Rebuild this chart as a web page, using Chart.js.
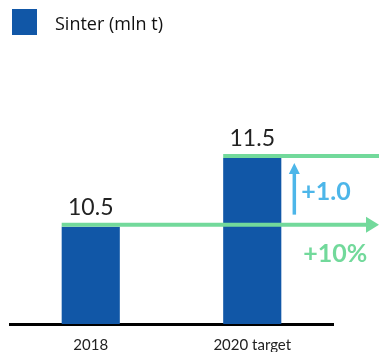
<!DOCTYPE html>
<html>
<head>
<meta charset="utf-8">
<script src="https://cdn.jsdelivr.net/npm/chart.js@4.4.0/dist/chart.umd.min.js"></script>
<style>
  html, body { margin: 0; padding: 0; background: #fff; }
  #wrap { position: relative; width: 379px; height: 352px; }
  #legend { position: absolute; left: 12px; top: 9px; display: flex; align-items: center;
    font-family: "Open Sans", sans-serif; font-size: 18px; color: #111; }
  #legend .box { width: 25px; height: 26px; background: #1157a7; margin-right: 18px; }
  #legend .txt { position: relative; top: 1px; }
</style>
</head>
<body>
<div id="wrap">
  <canvas id="chart" width="379" height="352"></canvas>
  <div id="legend"><span class="box"></span><span class="txt">Sinter (mln t)</span></div>
</div>
<script>
const categories = ["2018", "2020 target"];
const sinter = [10.5, 11.5];
const deltaLabel = "+1.0";
const growthLabel = "+10%";

const barBlue = "#1157a7";
const green = "#72d99b";
const lightBlue = "#4db6e9";

function arrowHead(ctx, x, y, dir, len, half) {
  ctx.beginPath();
  if (dir === "right") {
    ctx.moveTo(x, y);
    ctx.lineTo(x - len, y - half);
    ctx.lineTo(x - len, y + half);
  } else {
    ctx.moveTo(x, y);
    ctx.lineTo(x - half, y + len);
    ctx.lineTo(x + half, y + len);
  }
  ctx.closePath();
  ctx.fill();
}

const notes = {
  id: "notes",
  afterDraw(chart) {
    const ctx = chart.ctx;
    const bars = chart.getDatasetMeta(0).data;
    const y = chart.scales.y;
    const b0 = bars[0], b1 = bars[1];
    const y0 = y.getPixelForValue(sinter[0]);
    const y1 = y.getPixelForValue(sinter[1]);
    ctx.save();

    // value labels
    ctx.fillStyle = "#222";
    ctx.font = "23px Lato";
    ctx.textAlign = "center";
    ctx.textBaseline = "middle";
    bars.forEach((b, i) => ctx.fillText(sinter[i].toFixed(1), b.x, b.y - 19));

    // green level lines
    ctx.strokeStyle = green;
    ctx.fillStyle = green;
    ctx.lineWidth = 4;
    ctx.beginPath();
    ctx.moveTo(b0.x - b0.width / 2, y0 - 2);
    ctx.lineTo(chart.width - 10, y0 - 2);
    ctx.stroke();
    arrowHead(ctx, chart.width, y0 - 2, "right", 13, 8);

    ctx.beginPath();
    ctx.moveTo(b1.x - b1.width / 2, y1 - 2);
    ctx.lineTo(chart.width, y1 - 2);
    ctx.stroke();

    // blue arrow
    const ax = b1.x + b1.width / 2 + 13;
    ctx.strokeStyle = lightBlue;
    ctx.fillStyle = lightBlue;
    ctx.lineWidth = 3.5;
    ctx.beginPath();
    ctx.moveTo(ax, y0 - 12);
    ctx.lineTo(ax, y1 + 12);
    ctx.stroke();
    arrowHead(ctx, ax, y1 + 5, "up", 11, 5.5);

    ctx.textAlign = "left";
    ctx.font = "bold 25px Lato";
    ctx.fillText(deltaLabel, ax + 7, (y0 + y1) / 2);

    ctx.fillStyle = green;
    ctx.fillText(growthLabel, ax + 9, y0 + 27);
    ctx.restore();
  }
};

new Chart(document.getElementById("chart"), {
  type: "bar",
  data: {
    labels: categories,
    datasets: [{
      label: "Sinter (mln t)",
      data: sinter,
      backgroundColor: barBlue,
      barPercentage: 0.36,
      categoryPercentage: 1,
    }],
  },
  options: {
    responsive: false,
    animation: false,
    layout: { padding: { left: 10, right: 46, top: 60, bottom: 0 } },
    plugins: { legend: { display: false }, tooltip: { enabled: false } },
    scales: {
      x: {
        grid: { display: false, drawTicks: false },
        border: { display: true, color: "#000", width: 3 },
        ticks: { color: "#222", font: { family: "Lato", size: 15 }, padding: 12 },
        afterFit(scale) { scale.height = 28; },
      },
      y: { display: false, min: 9.08, max: 12.93 },
    },
  },
  plugins: [notes],
});
</script>
</body>
</html>
